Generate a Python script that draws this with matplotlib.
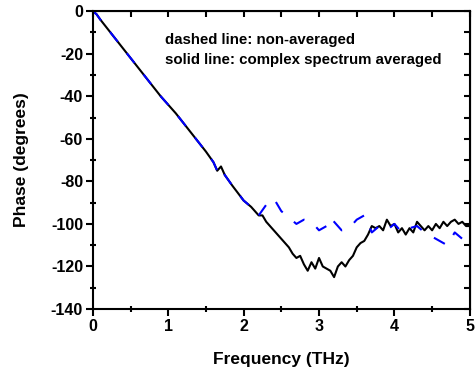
import matplotlib.pyplot as plt
from matplotlib.ticker import MultipleLocator

plt.rcParams['font.family'] = ['Liberation Sans', 'DejaVu Sans']
plt.rcParams['font.weight'] = 'bold'
plt.rcParams['axes.unicode_minus'] = False

# shared part of both curves (0 - 2.2 THz)
freq_common = [0.0, 0.05, 0.1, 0.3, 0.5, 0.7, 0.9, 1.1, 1.3, 1.5, 1.6, 1.65, 1.7, 1.75, 1.85, 2.0, 2.1, 2.2]
phase_common = [0, -1.5, -4, -13, -22, -31, -40, -48, -57, -66, -71, -75, -73, -77, -82, -89, -92, -96]

# solid line: complex spectrum averaged
freq_avg = [2.25, 2.3, 2.4, 2.5, 2.6, 2.65, 2.7, 2.75, 2.8, 2.85, 2.9, 2.95, 3.0, 3.05, 3.1, 3.15,
            3.2, 3.25, 3.3, 3.35, 3.4, 3.45, 3.5, 3.55, 3.6, 3.65, 3.7, 3.75, 3.8, 3.85, 3.9, 3.95,
            4.0, 4.05, 4.1, 4.15, 4.2, 4.25, 4.3, 4.35, 4.4, 4.45, 4.5, 4.55, 4.6, 4.65, 4.7, 4.75,
            4.8, 4.85, 4.9, 4.95, 5.0]
phase_avg = [-96, -99, -103, -107, -111, -114, -116, -115, -119, -122, -118, -121, -116, -120, -121, -122,
             -125, -120, -118, -120, -117, -115, -111, -109, -108, -105, -101, -102, -101, -103, -98, -101,
             -100, -104, -102, -105, -102, -104, -99, -101, -103, -101, -103, -100, -102, -99, -101, -99,
             -98, -100, -99, -101, -101]

# dashed line: non-averaged
freq_raw = [2.3, 2.4, 2.5, 2.6, 2.7, 2.8, 2.9, 3.0, 3.1, 3.15, 3.2, 3.3, 3.4, 3.5, 3.6, 3.7, 3.8,
            3.9, 4.0, 4.1, 4.2, 4.3, 4.4, 4.5, 4.6, 4.7, 4.8, 4.9, 5.0]
phase_raw = [-91, -88, -94, -97, -100, -98, -99, -103, -101, -97, -99, -103, -102, -98, -96, -104, -101,
             -103, -100, -104, -102, -101, -104, -106, -108, -110, -104, -107, -109]

xticks = [0, 1, 2, 3, 4, 5]
yticks = [0, -20, -40, -60, -80, -100, -120, -140]

fig = plt.figure(figsize=(4.76, 3.71), dpi=100)
ax = fig.add_axes([0.195, 0.167, 0.792, 0.803])

ax.plot(freq_common + freq_avg, phase_common + phase_avg, color='black', lw=1.5)
ax.plot(freq_common + freq_raw, phase_common + phase_raw, color='blue', lw=1.5, ls=(0, (6, 7)))

ax.set_xlim(0, 5)
ax.set_ylim(-140, 0)
ax.set_xticks(xticks, [str(v) for v in xticks], fontsize=11.5, fontweight='bold')
ax.set_yticks(yticks, [str(v) for v in yticks], fontsize=11.5, fontweight='bold')
ax.xaxis.set_minor_locator(MultipleLocator(0.5))
ax.yaxis.set_minor_locator(MultipleLocator(10))
ax.tick_params(which='major', direction='out', length=5, width=1.5, pad=2, top=False, right=False)
ax.tick_params(which='minor', direction='inout', length=5, width=1.5, top=False, right=False)
for s in ax.spines.values():
    s.set_linewidth(1.5)

# inward ticks on top and right
ax_top = ax.secondary_xaxis('top')
ax_top.xaxis.set_major_locator(MultipleLocator(0.5))
ax_top.tick_params(direction='in', length=4, width=1.5, labeltop=False)
ax_right = ax.secondary_yaxis('right')
ax_right.yaxis.set_major_locator(MultipleLocator(10))
ax_right.tick_params(direction='in', length=4, width=1.5, labelright=False)

ax.set_xlabel('Frequency (THz)', fontsize=12.5, fontweight='bold', labelpad=13)
ax.set_ylabel('Phase (degrees)', fontsize=12.5, fontweight='bold', labelpad=16)

ax.text(0.191, 0.888, 'dashed line: non-averaged', transform=ax.transAxes, fontsize=10.8, fontweight='bold')
ax.text(0.191, 0.824, 'solid line: complex spectrum averaged', transform=ax.transAxes, fontsize=10.8, fontweight='bold')

fig.savefig('out.png', dpi=100)
